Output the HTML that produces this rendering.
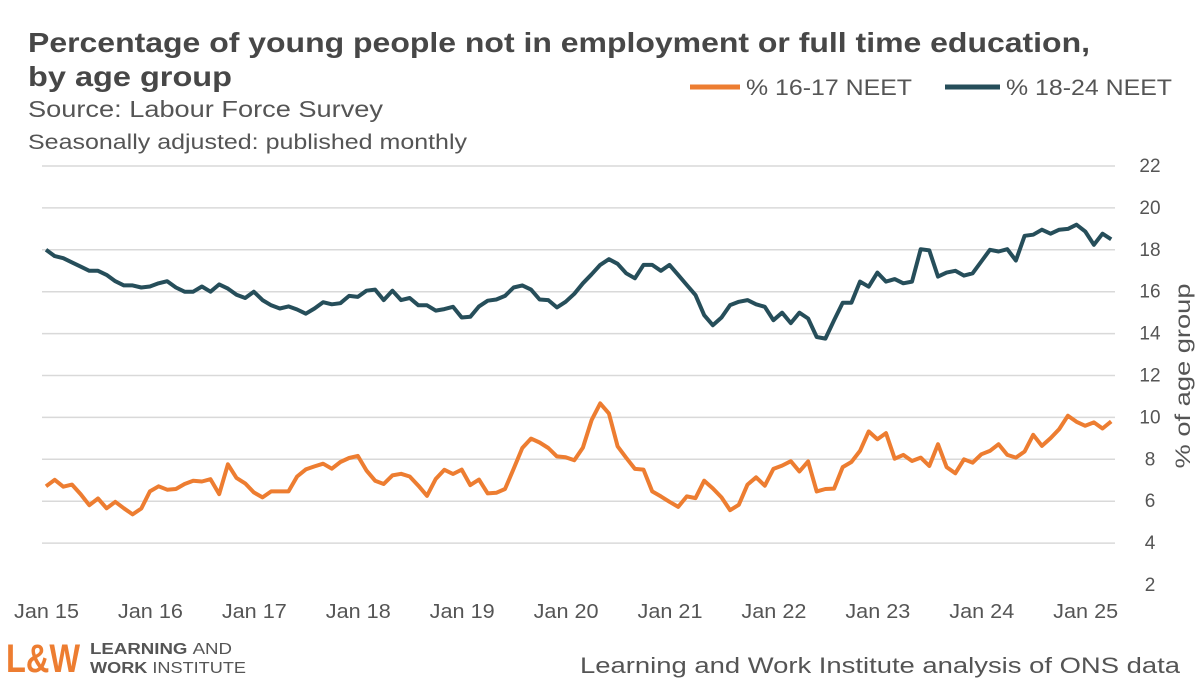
<!DOCTYPE html>
<html><head><meta charset="utf-8"><style>
body{margin:0;background:#fff;width:1200px;height:687px;overflow:hidden;font-family:"Liberation Sans",sans-serif;}
svg text{font-family:"Liberation Sans",sans-serif;}
</style></head><body>
<svg id="chart" width="1200" height="687" viewBox="0 0 1200 687">
<text x="28" y="52" font-size="28" font-weight="bold" fill="#474747" textLength="1062" lengthAdjust="spacingAndGlyphs">Percentage of young people not in employment or full time education,</text>
<text x="28" y="86" font-size="28" font-weight="bold" fill="#474747" textLength="204" lengthAdjust="spacingAndGlyphs">by age group</text>
<text x="28" y="117" font-size="23" fill="#555" textLength="355" lengthAdjust="spacingAndGlyphs">Source: Labour Force Survey</text>
<text x="28" y="149" font-size="21" fill="#555" textLength="439" lengthAdjust="spacingAndGlyphs">Seasonally adjusted: published monthly</text>
<g>
<line x1="690" y1="87" x2="740" y2="87" stroke="#ED7D31" stroke-width="5"/>
<text x="746" y="95" font-size="22" fill="#555" textLength="166" lengthAdjust="spacingAndGlyphs">% 16-17 NEET</text>
<line x1="945" y1="87" x2="1000" y2="87" stroke="#264E5A" stroke-width="5"/>
<text x="1006" y="95" font-size="22" fill="#555" textLength="166" lengthAdjust="spacingAndGlyphs">% 18-24 NEET</text>
</g>
<g id="grid"></g><g id="yt"></g><g id="xt"></g><g id="lines"></g>
<text transform="translate(1190,376) rotate(-90)" text-anchor="middle" font-size="21" fill="#555" textLength="185" lengthAdjust="spacingAndGlyphs">% of age group</text>
<g>
<text x="6" y="672" font-size="40" font-weight="bold" fill="#ED7D31" textLength="74" lengthAdjust="spacingAndGlyphs">L&amp;W</text>
<text x="90" y="654" font-size="16" font-weight="bold" fill="#555" textLength="142" lengthAdjust="spacingAndGlyphs">LEARNING <tspan font-weight="normal">AND</tspan></text>
<text x="90" y="673" font-size="16" font-weight="bold" fill="#555" textLength="156" lengthAdjust="spacingAndGlyphs">WORK <tspan font-weight="normal">INSTITUTE</tspan></text>
</g>
<text x="580" y="673" font-size="22" fill="#555" textLength="600" lengthAdjust="spacingAndGlyphs">Learning and Work Institute analysis of ONS data</text>
</svg>
<script>
const yTicks=[2,4,6,8,10,12,14,16,18,20,22];
const xLabels=["Jan 15","Jan 16","Jan 17","Jan 18","Jan 19","Jan 20","Jan 21","Jan 22","Jan 23","Jan 24","Jan 25"];
const neet1617=[6.71,7.02,6.69,6.79,6.34,5.81,6.13,5.66,5.97,5.66,5.37,5.65,6.47,6.71,6.55,6.58,6.82,6.98,6.94,7.05,6.34,7.76,7.11,6.85,6.42,6.18,6.47,6.47,6.47,7.18,7.52,7.66,7.79,7.55,7.87,8.06,8.16,7.47,6.98,6.82,7.23,7.31,7.18,6.74,6.26,
7.06,7.5,7.3,7.51,6.77,7.03,6.37,6.4,6.58,7.54,8.54,8.99,8.8,8.54,8.14,8.1,7.95,
8.56,9.87,10.67,10.19,8.62,8.07,7.54,7.51,6.47,6.23,5.97,5.73,6.23,6.15,6.98,6.61,6.18,5.57,5.83,6.79,7.14,6.74,7.54,7.7,7.91,7.42,7.9,6.47,6.58,
6.6,7.63,7.87,8.4,9.33,8.96,9.25,8.03,8.21,7.92,8.08,7.68,8.72,7.63,7.33,8.0,7.84,8.24,8.4,8.72,8.21,8.08,8.37,9.17,8.64,9.01,9.44,10.08,9.79,9.6,9.76,9.47,9.81];
const neet1824=[18.0,17.7,17.6,17.4,17.2,17.0,17.0,16.8,16.5,16.3,16.3,16.2,16.25,16.4,16.5,16.2,16.0,16.0,16.25,16.0,16.35,16.15,15.85,15.7,16.0,15.6,15.35,15.2,15.3,15.15,14.95,15.2,15.5,15.4,15.45,15.8,15.75,16.05,16.1,15.6,16.05,15.6,15.7,15.35,15.35,
15.1,15.17,15.28,14.77,14.8,15.3,15.57,15.63,15.8,16.2,16.3,16.1,15.63,15.6,15.25,15.52,15.9,16.4,16.83,17.28,17.55,17.33,16.88,16.64,17.28,17.28,17.0,17.28,16.8,16.32,15.84,14.88,14.4,14.77,15.36,15.52,15.6,15.4,15.28,14.64,15.0,14.5,15.0,
14.72,13.84,13.76,14.64,15.47,15.47,16.48,16.24,16.91,16.48,16.6,16.4,16.48,18.03,17.97,16.72,16.91,17.0,16.77,16.88,17.44,18.0,17.92,18.03,17.49,18.67,18.72,18.96,18.77,18.96,19.0,19.2,18.88,18.24,18.77,18.5];
const NS='http://www.w3.org/2000/svg';
const X0=46, STEP=8.66;
function xS(i){return X0+i*STEP;}
function yS(v){return 585-(v-2)*20.95;}
const grid=document.getElementById('grid'), yt=document.getElementById('yt'), xt=document.getElementById('xt'), lines=document.getElementById('lines');
yTicks.forEach(t=>{
  if(t>2){const l=document.createElementNS(NS,'line');
  l.setAttribute('x1',42);l.setAttribute('x2',1115);l.setAttribute('y1',yS(t));l.setAttribute('y2',yS(t));
  l.setAttribute('stroke','#d9d9d9');l.setAttribute('stroke-width',1.5);
  
  
  grid.appendChild(l);}
  const tx=document.createElementNS(NS,'text');
  tx.setAttribute('x',1150);tx.setAttribute('y',yS(t)+6);tx.setAttribute('text-anchor','middle');
  tx.setAttribute('font-size',19);tx.setAttribute('fill','#555');tx.textContent=t;
  
  
  yt.appendChild(tx);
});
xLabels.forEach((s,k)=>{
  const tx=document.createElementNS(NS,'text');
  tx.setAttribute('x',xS(k*12)-32);tx.setAttribute('y',618);
  tx.setAttribute('textLength',65);tx.setAttribute('lengthAdjust','spacingAndGlyphs');
  tx.setAttribute('font-size',20);tx.setAttribute('fill','#555');tx.textContent=s;
  
  
  xt.appendChild(tx);
});
function drawLine(data,color,name){
  const p=document.createElementNS(NS,'polyline');
  p.setAttribute('points',data.map((v,i)=>xS(i).toFixed(1)+','+yS(v).toFixed(1)).join(' '));
  p.setAttribute('fill','none');p.setAttribute('stroke',color);p.setAttribute('stroke-width',4);
  p.setAttribute('stroke-linejoin','round');
  
  
  lines.appendChild(p);
}
drawLine(neet1617,'#ED7D31','series-16-17-line');
drawLine(neet1824,'#264E5A','series-18-24-line');
</script>
</body></html>
